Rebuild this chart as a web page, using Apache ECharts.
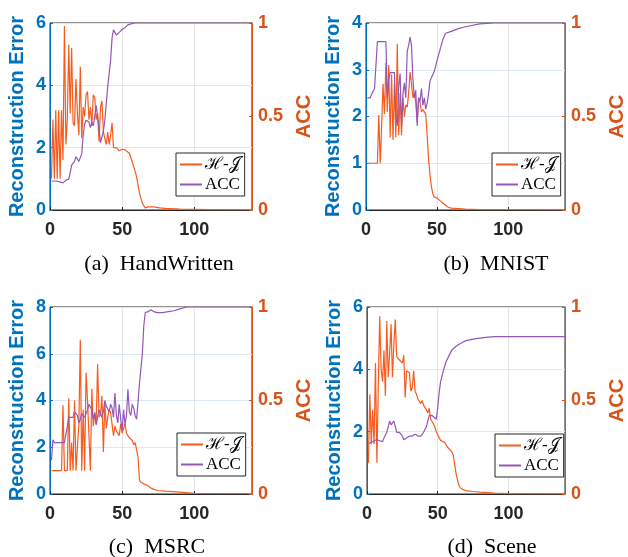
<!DOCTYPE html>
<html>
<head>
<meta charset="utf-8">
<script src="https://cdn.jsdelivr.net/npm/echarts@6/dist/echarts.min.js"></script>
<style>
html, body { margin: 0; padding: 0; background: #fff; }
#main { width: 628px; height: 557px; }
</style>
</head>
<body>
<div id="main"></div>
<script>
// values, [iteration, value]
var hwErr = [[1,1.0],[2,2.9],[3,1.0],[4,3.2],[5,1.0],[6,3.2],[7,1.0],[8,3.2],[9,1.6],[10,5.9],[11,2.1],[12,2.9],[13,5.3],[14,3.1],[15,5.2],[16,2.8],[17,2.7],[18,4.2],[19,3.1],[20,2.4],[21,4.6],[22,2.3],[23,3.3],[24,3.0],[25,3.7],[26,3.8],[27,2.9],[28,3.3],[29,2.7],[30,3.7],[31,3.6],[32,2.9],[33,3.1],[34,2.2],[35,3.3],[36,3.5],[37,2.5],[38,2.5],[39,2.1],[40,2.5],[41,2.1],[42,2.4],[43,2.8],[44,2.0],[46,2.0],[48,1.9],[50,1.95],[52,1.93],[55,1.82],[57,1.55],[58,1.5],[60,1.07],[62,0.55],[64,0.21],[66,0.07],[68,0.1],[72,0.1],[76,0.07],[80,0.05],[90,0.03],[100,0.02],[110,0.01],[140,0.0]];
var hwAcc = [[1,0.155],[4,0.155],[7,0.15],[9,0.145],[11,0.16],[13,0.165],[14,0.2],[15,0.24],[17,0.26],[18,0.285],[19,0.29],[20,0.26],[21,0.25],[22,0.3],[23,0.4],[24,0.46],[25,0.48],[26,0.47],[27,0.47],[28,0.44],[29,0.47],[30,0.45],[31,0.5],[32,0.56],[33,0.5],[34,0.43],[35,0.36],[36,0.35],[37,0.42],[38,0.48],[39,0.57],[40,0.66],[41,0.73],[42,0.8],[43,0.92],[44,0.963],[45,0.95],[46,0.936],[47,0.94],[48,0.95],[50,0.965],[52,0.975],[54,0.99],[56,0.995],[59,1.0],[140,1.0]];

var mnErr = [[1,1],[8,1],[9,2.03],[10,1],[11,1.8],[12,2.7],[13,2.05],[14,3.15],[15,2.1],[16,3.1],[17,1.55],[18,2.9],[19,1.5],[20,2.7],[21,1.55],[22,3.55],[23,1.6],[24,2.5],[25,1.6],[26,2.4],[27,2.0],[28,2.25],[29,2.2],[30,2.5],[31,2.95],[32,2.7],[33,2.4],[34,2.5],[35,2.3],[36,1.9],[37,2.4],[38,2.3],[39,2.1],[40,2.15],[41,2.1],[42,2.05],[43,1.6],[44,1.1],[45,0.75],[46,0.5],[47,0.35],[48,0.28],[50,0.25],[52,0.2],[54,0.15],[56,0.1],[58,0.06],[60,0.04],[65,0.03],[70,0.02],[80,0.01],[100,0.005],[140,0.0]];
var mnAcc = [[1,0.6],[3,0.6],[4,0.62],[5,0.63],[6,0.65],[7,0.65],[8,0.9],[14,0.9],[15,0.6],[16,0.7],[17,0.735],[20,0.735],[21,0.5],[22,0.45],[23,0.66],[24,0.73],[25,0.45],[26,0.62],[27,0.68],[28,0.6],[29,0.85],[30,0.88],[31,0.925],[32,0.88],[33,0.7],[34,0.6],[35,0.64],[36,0.45],[37,0.6],[38,0.58],[39,0.65],[40,0.56],[41,0.6],[42,0.54],[43,0.57],[44,0.62],[45,0.69],[46,0.7],[48,0.74],[50,0.8],[52,0.855],[54,0.91],[56,0.945],[60,0.955],[65,0.97],[70,0.98],[80,0.995],[90,1.0],[140,1.0]];

var msErr = [[1,1],[8,1],[9,3.8],[10,1],[11,1],[12,1],[13,4.1],[14,1],[15,2.2],[16,1],[17,4.0],[18,1],[19,1],[20,3.0],[21,6.6],[22,1],[23,3.6],[24,1],[25,5.2],[26,4.0],[27,2.5],[28,1],[29,4.5],[30,2.9],[31,3.5],[32,3.0],[33,5.55],[34,3.3],[35,3.4],[36,4.2],[37,1.8],[38,3.9],[39,2.8],[40,3.3],[41,3.6],[42,3.5],[43,3.5],[44,2.5],[45,2.9],[46,2.7],[47,2.7],[48,2.5],[49,3.0],[50,2.6],[52,3.0],[53,2.6],[55,2.4],[57,2.3],[58,2.1],[59,2.2],[60,2.2],[61,1.6],[62,0.6],[63,0.5],[64,0.55],[66,0.4],[68,0.35],[70,0.25],[72,0.2],[75,0.15],[80,0.12],[90,0.08],[100,0.03],[140,0.01]];
var msAcc = [[1,0.18],[2,0.29],[3,0.275],[10,0.275],[11,0.32],[12,0.36],[13,0.41],[16,0.41],[17,0.44],[18,0.45],[19,0.42],[20,0.38],[21,0.4],[22,0.43],[23,0.42],[24,0.41],[25,0.43],[26,0.45],[27,0.48],[28,0.49],[29,0.45],[30,0.4],[31,0.43],[32,0.37],[33,0.36],[34,0.45],[35,0.44],[36,0.41],[37,0.44],[38,0.5],[39,0.47],[40,0.46],[41,0.44],[42,0.48],[43,0.46],[44,0.41],[45,0.54],[46,0.42],[47,0.38],[48,0.48],[49,0.4],[50,0.34],[51,0.45],[52,0.37],[53,0.42],[54,0.56],[55,0.44],[56,0.42],[57,0.48],[58,0.46],[59,0.42],[60,0.4],[61,0.49],[62,0.59],[63,0.6],[64,0.75],[65,0.9],[66,0.97],[68,0.975],[70,0.985],[72,0.975],[74,0.97],[78,0.97],[82,0.975],[86,0.98],[90,0.99],[95,1.0],[140,1.0]];

var scErr = [[1,1.0],[2,3.2],[3,1.6],[4,2.7],[5,1.6],[6,4.2],[7,1.0],[8,3.5],[9,5.7],[10,4.0],[11,3.6],[12,4.6],[13,3.15],[14,5.55],[15,3.75],[16,4.5],[17,5.45],[18,3.75],[19,4.8],[20,5.6],[21,4.4],[22,4.35],[23,4.3],[24,4.35],[25,4.2],[26,4.45],[27,3.1],[28,3.95],[29,3.95],[30,3.9],[31,3.3],[32,3.4],[33,3.95],[34,3.3],[35,3.2],[36,3.05],[37,3.0],[38,2.9],[39,3.0],[40,2.85],[41,2.8],[42,2.7],[43,2.6],[44,2.75],[45,2.4],[46,2.35],[47,2.25],[48,2.15],[49,2.0],[50,1.9],[51,1.8],[52,1.72],[53,1.68],[55,1.65],[57,1.5],[58,1.45],[60,1.35],[61,1.25],[62,0.95],[63,0.65],[64,0.45],[65,0.28],[66,0.2],[68,0.14],[70,0.11],[75,0.08],[80,0.06],[90,0.03],[100,0.01],[140,0.0]];
var scAcc = [[1,0.27],[3,0.275],[5,0.285],[7,0.29],[9,0.285],[11,0.28],[12,0.3],[14,0.33],[16,0.39],[17,0.37],[18,0.38],[19,0.39],[20,0.36],[21,0.33],[22,0.32],[23,0.33],[24,0.33],[25,0.31],[26,0.29],[27,0.29],[28,0.3],[30,0.31],[31,0.32],[32,0.31],[34,0.32],[36,0.31],[37,0.3],[38,0.31],[40,0.33],[42,0.36],[44,0.42],[45,0.43],[46,0.42],[47,0.425],[49,0.4],[50,0.46],[51,0.54],[52,0.6],[54,0.66],[56,0.71],[58,0.74],[60,0.77],[63,0.79],[66,0.805],[70,0.82],[76,0.83],[84,0.838],[90,0.842],[140,0.842]];

var captions = ['(a)  HandWritten', '(b)  MNIST', '(c)  MSRC', '(d)  Scene'];
var errMax = [6, 4, 8, 6];
var errStep = [2, 1, 2, 2];
var errData = [hwErr, mnErr, msErr, scErr];
var accData = [hwAcc, mnAcc, msAcc, scAcc];
var accTicks = [0, 0.5, 1];
var xTicks = [0, 50, 100];

var blue = '#0072BD', orange = '#D95319', ink = '#262626';
var lineHJ = '#F75B1E', linePurple = '#9257B8';
var nameHJ = 'ℋ-𝒥', nameAcc = 'ACC';

var boxes = [
    {left: 50, top: 23, width: 202, height: 187, cap: [159, 264], leg: [176, 153]},
    {left: 366, top: 23, width: 204, height: 187, cap: [496, 264], leg: [492, 153]},
    {left: 50, top: 307, width: 202, height: 187, cap: [157, 547], leg: [177, 433]},
    {left: 367, top: 307, width: 203, height: 187, cap: [492, 547], leg: [495, 434]}
];

var sans = 'Liberation Sans, Arial, Helvetica, sans-serif';
var serif = 'Liberation Serif, DejaVu Serif, Times New Roman, serif';

var grid = [], xAxis = [], yAxis = [], series = [], legend = [], graphic = [];
boxes.forEach(function (b, i) {
    grid.push({left: b.left, top: b.top, width: b.width, height: b.height,
        show: true, borderColor: ink, borderWidth: 1, backgroundColor: '#fff'});
    xAxis.push({
        gridIndex: i, type: 'value', min: 0, max: 140, interval: 50,
        axisLine: {show: true, lineStyle: {color: ink}},
        axisTick: {show: true, inside: true, length: 3, lineStyle: {color: ink}},
        axisLabel: {color: ink, fontWeight: 'bold', fontSize: 18, fontFamily: sans, margin: 11,
            showMaxLabel: false,
            formatter: function (v) { return xTicks.indexOf(v) >= 0 ? String(v) : ''; }},
        splitLine: {show: true, lineStyle: {color: '#E4E4E4'}}
    });
    yAxis.push({
        gridIndex: i, type: 'value', min: 0, max: errMax[i], interval: errStep[i], position: 'left',
        name: 'Reconstruction Error', nameLocation: 'middle', nameGap: 23,
        nameTextStyle: {color: blue, fontWeight: 'bold', fontSize: 20, fontFamily: sans},
        axisLine: {show: true, lineStyle: {color: blue}},
        axisTick: {show: true, inside: true, length: 3, lineStyle: {color: blue}},
        axisLabel: {color: blue, fontWeight: 'bold', fontSize: 18, fontFamily: sans, margin: 4},
        splitLine: {show: true, lineStyle: {color: '#DCE8F3'}}
    });
    yAxis.push({
        gridIndex: i, type: 'value', min: 0, max: 1, interval: 0.5, position: 'right',
        name: 'ACC', nameLocation: 'middle', nameGap: 42,
        nameTextStyle: {color: orange, fontWeight: 'bold', fontSize: 20, fontFamily: sans},
        axisLine: {show: true, lineStyle: {color: orange}},
        axisTick: {show: true, inside: true, length: 3, lineStyle: {color: orange}},
        axisLabel: {color: orange, fontWeight: 'bold', fontSize: 18, fontFamily: sans, margin: 6,
            formatter: function (v) { return accTicks.indexOf(v) >= 0 ? String(v) : ''; }},
        splitLine: {show: false}
    });
    series.push({
        name: nameHJ, type: 'line', xAxisIndex: i, yAxisIndex: 2 * i,
        data: errData[i], symbol: 'none', showSymbol: false,
        lineStyle: {color: lineHJ, width: 1.2}, itemStyle: {color: lineHJ}, z: 3
    });
    series.push({
        name: nameAcc, type: 'line', xAxisIndex: i, yAxisIndex: 2 * i + 1,
        data: accData[i], symbol: 'none', showSymbol: false,
        lineStyle: {color: linePurple, width: 1.2}, itemStyle: {color: linePurple}, z: 4
    });
    legend.push({
        left: b.leg[0], top: b.leg[1], orient: 'vertical',
        data: [nameHJ, nameAcc],
        backgroundColor: '#fff', borderColor: ink, borderWidth: 1, borderRadius: 0,
        padding: [3, 4, 3, 3], itemGap: 3, itemWidth: 22, itemHeight: 17,
        selectedMode: false,
        itemStyle: {color: 'transparent', borderWidth: 0, opacity: 0},
        textStyle: {color: '#000', fontSize: 17, fontFamily: serif, padding: [0, 0, 0, -2]}
    });
    graphic.push({
        type: 'text', x: b.cap[0], y: b.cap[1],
        style: {text: captions[i], fill: '#000', font: '22px ' + serif,
            align: 'center', verticalAlign: 'middle'}
    });
});

var myChart = echarts.init(document.getElementById('main'));
myChart.setOption({
    animation: false,
    backgroundColor: '#fff',
    grid: grid,
    xAxis: xAxis,
    yAxis: yAxis,
    legend: legend,
    series: series,
    graphic: graphic
});
window.onresize = myChart.resize;
</script>
</body>
</html>
